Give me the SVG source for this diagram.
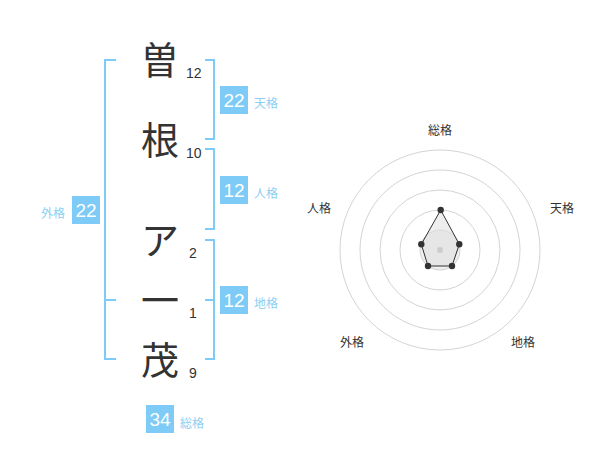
<svg xmlns="http://www.w3.org/2000/svg" width="600" height="470" viewBox="0 0 600 470">
<style>
.ch{font-family:"Noto Sans CJK JP",sans-serif;font-size:38px;fill:#333;text-anchor:middle}
.num{font-family:"Liberation Sans",Arial,sans-serif;font-size:14px;fill:#333}
.br{fill:none;stroke:#7dcbf6;stroke-width:2}
.box{fill:#7dcbf6}
.bn{font-family:"Liberation Sans",Arial,sans-serif;font-size:19px;fill:#fff;text-anchor:middle}
.lb{font-family:"Noto Sans CJK JP",sans-serif;font-size:12px;fill:#8ccff3}
.rl{font-family:"Noto Sans CJK JP",sans-serif;font-size:12px;fill:#333;text-anchor:middle}
.ring{fill:none;stroke:#d4d4d4;stroke-width:1}
</style>
<rect width="600" height="470" fill="#fff"/>
<g id="names">
<text class="ch" x="160" y="74">曽</text>
<text class="ch" x="160" y="154">根</text>
<text class="ch" x="160" y="254">ア</text>
<text class="ch" x="160" y="314">一</text>
<text class="ch" x="160" y="374">茂</text>
<text class="num" x="186" y="78">12</text>
<text class="num" x="186" y="158">10</text>
<text class="num" x="189" y="258">2</text>
<text class="num" x="189" y="318">1</text>
<text class="num" x="189" y="378">9</text>
</g>
<g id="connectors">
<path class="br" d="M116,60 H105 V359 H116 M105,300 H116"/>
<path class="br" d="M205,60 H214 V139 H205"/>
<path class="br" d="M205,149 H214 V229 H205"/>
<path class="br" d="M205,240 H214 V359 H205 M205,300 H214"/>
</g>
<g id="tenkaku"><rect class="box" x="220" y="86" width="28" height="28"/><text class="bn" x="234" y="107">22</text><text class="lb" x="254" y="108">天格</text></g>
<g id="jinkaku"><rect class="box" x="220" y="176" width="28" height="28"/><text class="bn" x="234" y="197">12</text><text class="lb" x="254" y="198">人格</text></g>
<g id="chikaku"><rect class="box" x="220" y="286" width="28" height="28"/><text class="bn" x="234" y="307">12</text><text class="lb" x="254" y="308">地格</text></g>
<g id="gaikaku"><rect class="box" x="72" y="196" width="28" height="28"/><text class="bn" x="86" y="217">22</text><text class="lb" x="41" y="218">外格</text></g>
<g id="soukaku"><rect class="box" x="146" y="405" width="28" height="28"/><text class="bn" x="160" y="426">34</text><text class="lb" x="180" y="428">総格</text></g>
<g id="radar">
<circle cx="440" cy="250" r="20" fill="#eee" stroke="#d4d4d4"/>
<circle class="ring" cx="440" cy="250" r="40"/>
<circle class="ring" cx="440" cy="250" r="60"/>
<circle class="ring" cx="440" cy="250" r="80"/>
<circle class="ring" cx="440" cy="250" r="100"/>
<polygon points="440.7,210 459.3,244.3 452,266 428,266 421.3,244.3" fill="#ddd" fill-opacity="0.5" stroke="#333" stroke-width="1"/>
<circle cx="440" cy="250" r="3" fill="#ccc"/>
<g fill="#333">
<circle cx="440.7" cy="210" r="3.2"/>
<circle cx="459.3" cy="244.3" r="3.2"/>
<circle cx="452" cy="266" r="3.2"/>
<circle cx="428" cy="266" r="3.2"/>
<circle cx="421.3" cy="244.3" r="3.2"/>
</g>
<text class="rl" x="440" y="135">総格</text>
<text class="rl" x="562" y="213">天格</text>
<text class="rl" x="523" y="347">地格</text>
<text class="rl" x="352" y="347">外格</text>
<text class="rl" x="319" y="213">人格</text>
</g>
</svg>
